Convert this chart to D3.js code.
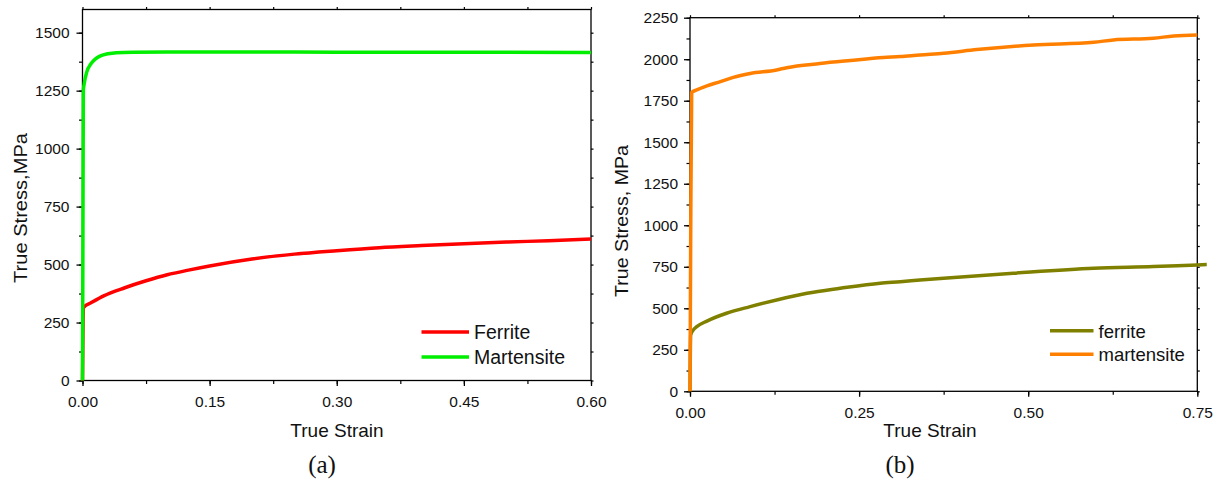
<!DOCTYPE html>
<html>
<head>
<meta charset="utf-8">
<script src="https://cdn.jsdelivr.net/npm/d3@7"></script>
<style>
  body { margin: 0; background: #fff; }
  text { font-family: Arial, "Liberation Sans", sans-serif; fill: #111; }
  .caption { font-family: "Times New Roman", "Liberation Serif", serif; }
  .domain, .tick line { stroke: #000; }
</style>
</head>
<body>
<svg id="chart"></svg>
<script>
// panel (a): [true strain, true stress MPa]
const ferriteA = [[0,0],[0.0005,200],[0.001,312],[0.002,318],[0.01,335],[0.025,365],[0.05,400],[0.075,430],
  [0.1,456],[0.125,476],[0.15,494],[0.2,524],[0.25,545],[0.3,560],[0.35,573],[0.4,582],[0.45,590],
  [0.5,597],[0.55,603],[0.6,610]];
const martensiteA = [[0,0],[0.0005,600],[0.001,1250],[0.002,1280],[0.005,1330],[0.01,1366],[0.015,1386],
  [0.02,1398],[0.03,1409],[0.04,1414],[0.06,1416],[0.1,1417],[0.2,1417],[0.3,1416],[0.4,1416],
  [0.5,1416],[0.6,1415]];

// panel (b)
const ferriteB = [[0,0],[0.001,339],[0.005,370],[0.01,389],[0.025,423],[0.054,470],[0.089,510],[0.128,550],
  [0.173,590],[0.222,620],[0.281,651],[0.311,660],[0.34,670],[0.375,681],[0.478,711],[0.597,741],
  [0.685,751],[0.75,761],[0.764,763]];
const martensiteB = [[0,0],[0.001,900],[0.0025,1800],[0.01,1815],[0.025,1840],[0.045,1865],[0.064,1891],
  [0.089,1914],[0.128,1935],[0.143,1949],[0.192,1974],[0.237,1992],[0.286,2010],[0.311,2016],[0.34,2026],
  [0.375,2036],[0.424,2058],[0.508,2086],[0.597,2102],[0.626,2116],[0.685,2126],[0.715,2140],[0.75,2146]];

const xTicksA = [0, 0.15, 0.30, 0.45, 0.60];
const yTicksA = [0, 250, 500, 750, 1000, 1250, 1500];
const xTicksB = [0, 0.25, 0.50, 0.75];
const yTicksB = [0, 250, 500, 750, 1000, 1250, 1500, 1750, 2000, 2250];

const W = 1221, H = 479;
const svg = d3.select("#chart").attr("width", W).attr("height", H);
svg.append("rect").attr("width", W).attr("height", H).attr("fill", "#fff");

function drawPanel(p) {
  let x = d3.scaleLinear().domain(p.xDomain).range([p.left, p.right]);
  let y = d3.scaleLinear().domain(p.yDomain).range([p.bottom, p.top]);
  let g = svg.append("g");

  let step = p.xTicks[1] - p.xTicks[0];
  let xMinor = d3.range(p.xDomain[0], p.xDomain[1] + 1e-9, step / 2);
  let yMinor = d3.range(0, p.yDomain[1] + 1e-9, 125);

  // frame
  g.append("rect")
    .attr("x", p.left).attr("y", p.top)
    .attr("width", p.right - p.left).attr("height", p.bottom - p.top)
    .attr("fill", "none").attr("stroke", "#000").attr("stroke-width", 1.3);

  // minor ticks, all four sides
  let minor = [
    [d3.axisBottom(x).tickValues(xMinor).tickSize(3.5), `translate(0,${p.bottom})`],
    [d3.axisTop(x).tickValues(xMinor).tickSize(2.5), `translate(0,${p.top})`],
    [d3.axisLeft(y).tickValues(yMinor).tickSize(3.5), `translate(${p.left},0)`],
    [d3.axisRight(y).tickValues(yMinor).tickSize(2.5), `translate(${p.right},0)`]
  ];
  minor.forEach(([ax, tr]) => {
    let a = g.append("g").attr("transform", tr).call(ax.tickFormat(""));
    a.select(".domain").remove();
    a.selectAll(".tick line").attr("stroke-width", 1.2);
  });

  let xAxis = g.append("g").attr("transform", `translate(0,${p.bottom})`)
    .call(d3.axisBottom(x).tickValues(p.xTicks).tickSize(5.5).tickPadding(p.xPad).tickFormat(d3.format(".2f")));
  let yAxis = g.append("g").attr("transform", `translate(${p.left},0)`)
    .call(d3.axisLeft(y).tickValues(p.yTicks).tickSize(6).tickPadding(p.yPad).tickFormat(d3.format("d")));
  [xAxis, yAxis].forEach(a => {
    a.select(".domain").remove();
    a.selectAll(".tick line").attr("stroke-width", 1.3);
    a.selectAll(".tick text").attr("font-size", 15.5).attr("fill", "#111")
      .attr("font-family", "Arial, 'Liberation Sans', sans-serif");
  });

  let line = d3.line().x(d => x(d[0])).y(d => y(d[1])).curve(d3.curveMonotoneX);
  p.series.forEach(s => {
    g.append("path").datum(s.data)
      .attr("d", line)
      .attr("fill", "none")
      .attr("stroke", s.color)
      .attr("stroke-width", 3.5)
      .attr("stroke-linejoin", "round");
  });

  // legend
  p.series.forEach((s, i) => {
    let ly = p.legend.y + i * p.legend.dy;
    g.append("line")
      .attr("x1", p.legend.x).attr("x2", p.legend.x + p.legend.len)
      .attr("y1", ly).attr("y2", ly)
      .attr("stroke", s.color).attr("stroke-width", 3.5);
    g.append("text")
      .attr("x", p.legend.x + p.legend.len + 5).attr("y", ly + 7)
      .attr("font-size", p.legend.size)
      .text(s.name);
  });

  g.append("text")
    .attr("x", p.xTitle[0]).attr("y", p.xTitle[1])
    .attr("text-anchor", "middle").attr("font-size", 19)
    .text("True Strain");

  g.append("text")
    .attr("transform", `translate(${p.yTitle[0]},${p.yTitle[1]}) rotate(-90)`)
    .attr("text-anchor", "middle").attr("font-size", 18)
    .attr("textLength", p.yTitle[2]).attr("lengthAdjust", "spacingAndGlyphs")
    .text(p.yLabel);

  g.append("text").attr("class", "caption")
    .attr("x", p.caption[0]).attr("y", p.caption[1])
    .attr("text-anchor", "middle").attr("font-size", 25)
    .text(p.captionText);
}

drawPanel({
  left: 82.5, right: 591, top: 9.5, bottom: 380.5,
  xDomain: [0, 0.6], yDomain: [0, 1600],
  xTicks: xTicksA, yTicks: yTicksA, xPad: 10, yPad: 7,
  series: [
    { name: "Ferrite", color: "#ff0000", data: ferriteA },
    { name: "Martensite", color: "#00ee00", data: martensiteA }
  ],
  legend: { x: 421.5, y: 332, dy: 25, len: 47.5, size: 19.5 },
  xTitle: [337, 437], yTitle: [27, 208, 150], yLabel: "True Stress,MPa",
  caption: [322, 473], captionText: "(a)"
});

drawPanel({
  left: 690, right: 1197.3, top: 17.7, bottom: 391.3,
  xDomain: [0, 0.75], yDomain: [0, 2250],
  xTicks: xTicksB, yTicks: yTicksB, xPad: 10, yPad: 6,
  series: [
    { name: "ferrite", color: "#808000", data: ferriteB },
    { name: "martensite", color: "#ff8000", data: martensiteB }
  ],
  legend: { x: 1050, y: 330.7, dy: 23.6, len: 43.5, size: 18.5 },
  xTitle: [930, 437], yTitle: [628, 221, 152], yLabel: "True Stress, MPa",
  caption: [900, 473], captionText: "(b)"
});
</script>
</body>
</html>
